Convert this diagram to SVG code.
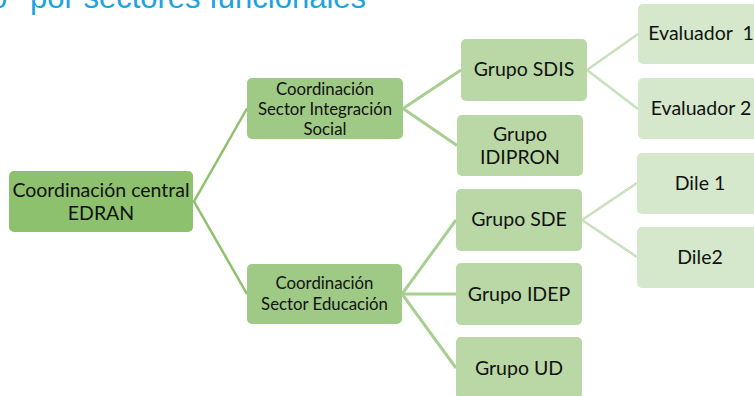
<svg xmlns="http://www.w3.org/2000/svg" width="754" height="396" viewBox="0 0 754 396">
<style>
text{font-family:Lato,"Liberation Sans",sans-serif;fill:#111;text-anchor:middle}
.t0{font-size:19.5px}
.t1{font-size:16.8px}
.t2{font-size:19.5px}
.title{font-family:"Liberation Sans",Arial,sans-serif;font-size:31px;fill:#1CA3E0;text-anchor:start}
.n0{fill:#8EC16D}
.n1{fill:#9FCA85}
.n2{fill:#B9D8A5}
.n3{fill:#D5E8CC}
.c0{stroke:#8EC16D;stroke-width:2.5;fill:none}
.c1{stroke:#A8CF92;stroke-width:3;fill:none}
.c2{stroke:#C8E0BB;stroke-width:2.5;fill:none}
</style>
<rect width="754" height="396" fill="#fff"/>
<text class="title" y="7.5"><tspan x="-10">o</tspan><tspan x="30">por sectores funcionales</tspan></text>
<g id="connectors">
<polyline class="c0" points="247,108.5 194,201.5 247,294"/>
<polyline class="c1" points="461,70 403,108.5 457,145.5"/>
<polyline class="c1" points="456,220 402,294 456,368"/>
<line class="c1" x1="402" y1="294" x2="456" y2="294"/>
<polyline class="c2" points="638,34 587,70 638,109"/>
<polyline class="c2" points="637,183 582,220 637,257"/>
</g>
<g id="n-central"><rect class="n0" x="9" y="171" width="184" height="61" rx="5"/><text class="t0" x="101" y="197">Coordinación central</text><text class="t0" x="101" y="220">EDRAN</text></g>
<g id="n-integracion"><rect class="n1" x="247" y="78" width="156" height="61" rx="5"/><text class="t1" x="325" y="94.5">Coordinación</text><text class="t1" x="325" y="115">Sector Integración</text><text class="t1" x="325" y="134.5">Social</text></g>
<g id="n-educacion"><rect class="n1" x="247" y="264" width="155" height="60" rx="5"/><text class="t1" x="324.5" y="289">Coordinación</text><text class="t1" x="324.5" y="310">Sector Educación</text></g>
<g id="n-sdis"><rect class="n2" x="461" y="39" width="126" height="62" rx="5"/><text class="t2" x="524" y="76">Grupo SDIS</text></g>
<g id="n-idipron"><rect class="n2" x="457" y="115" width="126" height="61" rx="5"/><text class="t2" x="520" y="141">Grupo</text><text class="t2" x="520" y="163.5">IDIPRON</text></g>
<g id="n-sde"><rect class="n2" x="456" y="189" width="126" height="62" rx="5"/><text class="t2" x="519" y="226">Grupo SDE</text></g>
<g id="n-idep"><rect class="n2" x="456" y="263" width="126" height="62" rx="5"/><text class="t2" x="519" y="301">Grupo IDEP</text></g>
<g id="n-ud"><rect class="n2" x="456" y="337" width="126" height="62" rx="5"/><text class="t2" x="519" y="375">Grupo UD</text></g>
<g id="n-eval1"><rect class="n3" x="638" y="4" width="126" height="60" rx="5"/><text class="t2" x="701" y="40" xml:space="preserve">Evaluador  1</text></g>
<g id="n-eval2"><rect class="n3" x="638" y="78" width="126" height="61" rx="5"/><text class="t2" x="701" y="115">Evaluador 2</text></g>
<g id="n-dile1"><rect class="n3" x="637" y="153" width="126" height="61" rx="5"/><text class="t2" x="700" y="189.5">Dile 1</text></g>
<g id="n-dile2"><rect class="n3" x="637" y="227" width="126" height="61" rx="5"/><text class="t2" x="700" y="263.5">Dile2</text></g>
</svg>
